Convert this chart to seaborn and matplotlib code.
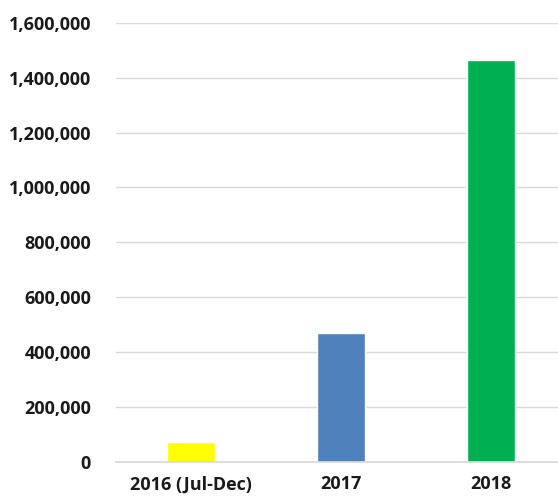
import matplotlib
matplotlib.use("Agg")
import matplotlib.pyplot as plt
import seaborn as sns
import pandas as pd
from matplotlib.ticker import FuncFormatter

categories = ["2016 (Jul-Dec)", "2017", "2018"]
values = [72000, 467000, 1463000]
colors = ["#FFFF00", "#4F81BD", "#00B050"]

df = pd.DataFrame({"period": categories, "count": values})

sns.set_theme(style="white")
plt.rcParams['font.family'] = ['Open Sans', 'DejaVu Sans']

fig = plt.figure(figsize=(5.58, 4.97), dpi=100)
ax = fig.add_axes([0.208, 0.0714, 0.792, 0.8826])

sns.barplot(data=df, x="period", y="count", hue="period", palette=colors,
            legend=False, width=0.32, ax=ax, saturation=1)

ax.set_ylim(0, 1600000)
ax.set_xlim(-0.5, 2.45)
ax.set_yticks(range(0, 1600001, 200000))
ax.yaxis.set_major_formatter(FuncFormatter(lambda v, p: f"{int(v):,}"))
ax.grid(axis="y", color="#D9D9D9", linewidth=1)
ax.set_axisbelow(True)
for s in ["top", "right", "left"]:
    ax.spines[s].set_visible(False)
ax.spines["bottom"].set_color("#D9D9D9")
ax.tick_params(axis="both", length=0, labelsize=13, colors="#1a1a1a")
ax.tick_params(axis="x", pad=10)
ax.tick_params(axis="y", pad=18)
for lab in ax.get_xticklabels() + ax.get_yticklabels():
    lab.set_fontweight("bold")
ax.set_xlabel("")
ax.set_ylabel("")

fig.savefig("out.png", dpi=100)
